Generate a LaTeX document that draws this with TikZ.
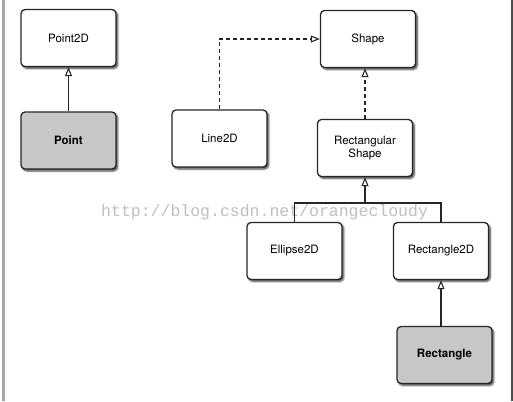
\documentclass[tikz,border=0pt]{standalone}
\usepackage{fontspec}
\setsansfont{TeX Gyre Heros}
\newfontfamily\markfont{Liberation Mono}
\usetikzlibrary{arrows.meta,shadows.blur}

\tikzset{
  klasse/.style={draw=black!85,line width=1.3pt,rounded corners=4pt,fill=white,
    minimum width=95pt,minimum height=57pt,align=center,
    font=\sffamily\fontsize{11.5}{13}\selectfont,
    blur shadow={shadow xshift=1.8pt,shadow yshift=-2pt,shadow blur steps=6,
      shadow blur extra rounding=1.5pt,shadow opacity=75}},
  konkret/.style={klasse,fill=black!22,font=\sffamily\bfseries\fontsize{11.5}{13}\selectfont},
  erbt/.style={draw=black!85,line width=1.1pt,-{Triangle[open,length=9pt,width=7pt,fill=white]}},
  impl/.style={erbt,dashed,dash pattern=on 4pt off 3pt}
}

\begin{document}
\begin{tikzpicture}[x=1pt,y=-1pt]
        \useasboundingbox (0,0) rectangle (513,401);

        % Randstreifen vom Scan
        \draw[black!35,line width=3pt] (3.5,0) -- (3.5,401);
        \draw[black!70,line width=2pt] (511.5,0) -- (511.5,401);

        % Wasserzeichen
        \node[anchor=base west,inner sep=0pt,text=black!25,font=\markfont\fontsize{16.5}{18}\selectfont]
          (mark) at (101,216) {http://blog.csdn.net/orangecloudy};

        % Klassen
        \node[klasse]  (pt2d)  at (68.5,38)    {Point2D};
        \node[konkret] (pt)    at (68.5,140.5) {Point};
        \node[klasse]  (l2d)   at (219.5,138.5){Line2D};
        \node[klasse]  (shape) at (368,39)     {Shape};
        \node[klasse]  (rs)    at (365,148)    {Rectangular\\Shape};
        \node[klasse]  (e2d)   at (294.5,251)  {Ellipse2D};
        \node[klasse]  (r2d)   at (441,251)    {Rectangle2D};
        \node[konkret] (rect)  at (444.5,355)  {Rectangle};

        % Vererbung
        \draw[erbt] (pt) -- (pt2d);
        \draw[impl] (l2d.north) |- (shape.west);
        \draw[impl] (rs.north) -- (rs.north |- shape.south);

        \coordinate (j) at (365,203);
        \draw[draw=black!85,line width=1.1pt] (e2d.north) |- (r2d.north |- j) -- (r2d.north);
        \draw[erbt] (j) -- (rs.south);
        \draw[erbt] (r2d.south |- rect.north) -- (r2d.south);
\end{tikzpicture}
\end{document}
